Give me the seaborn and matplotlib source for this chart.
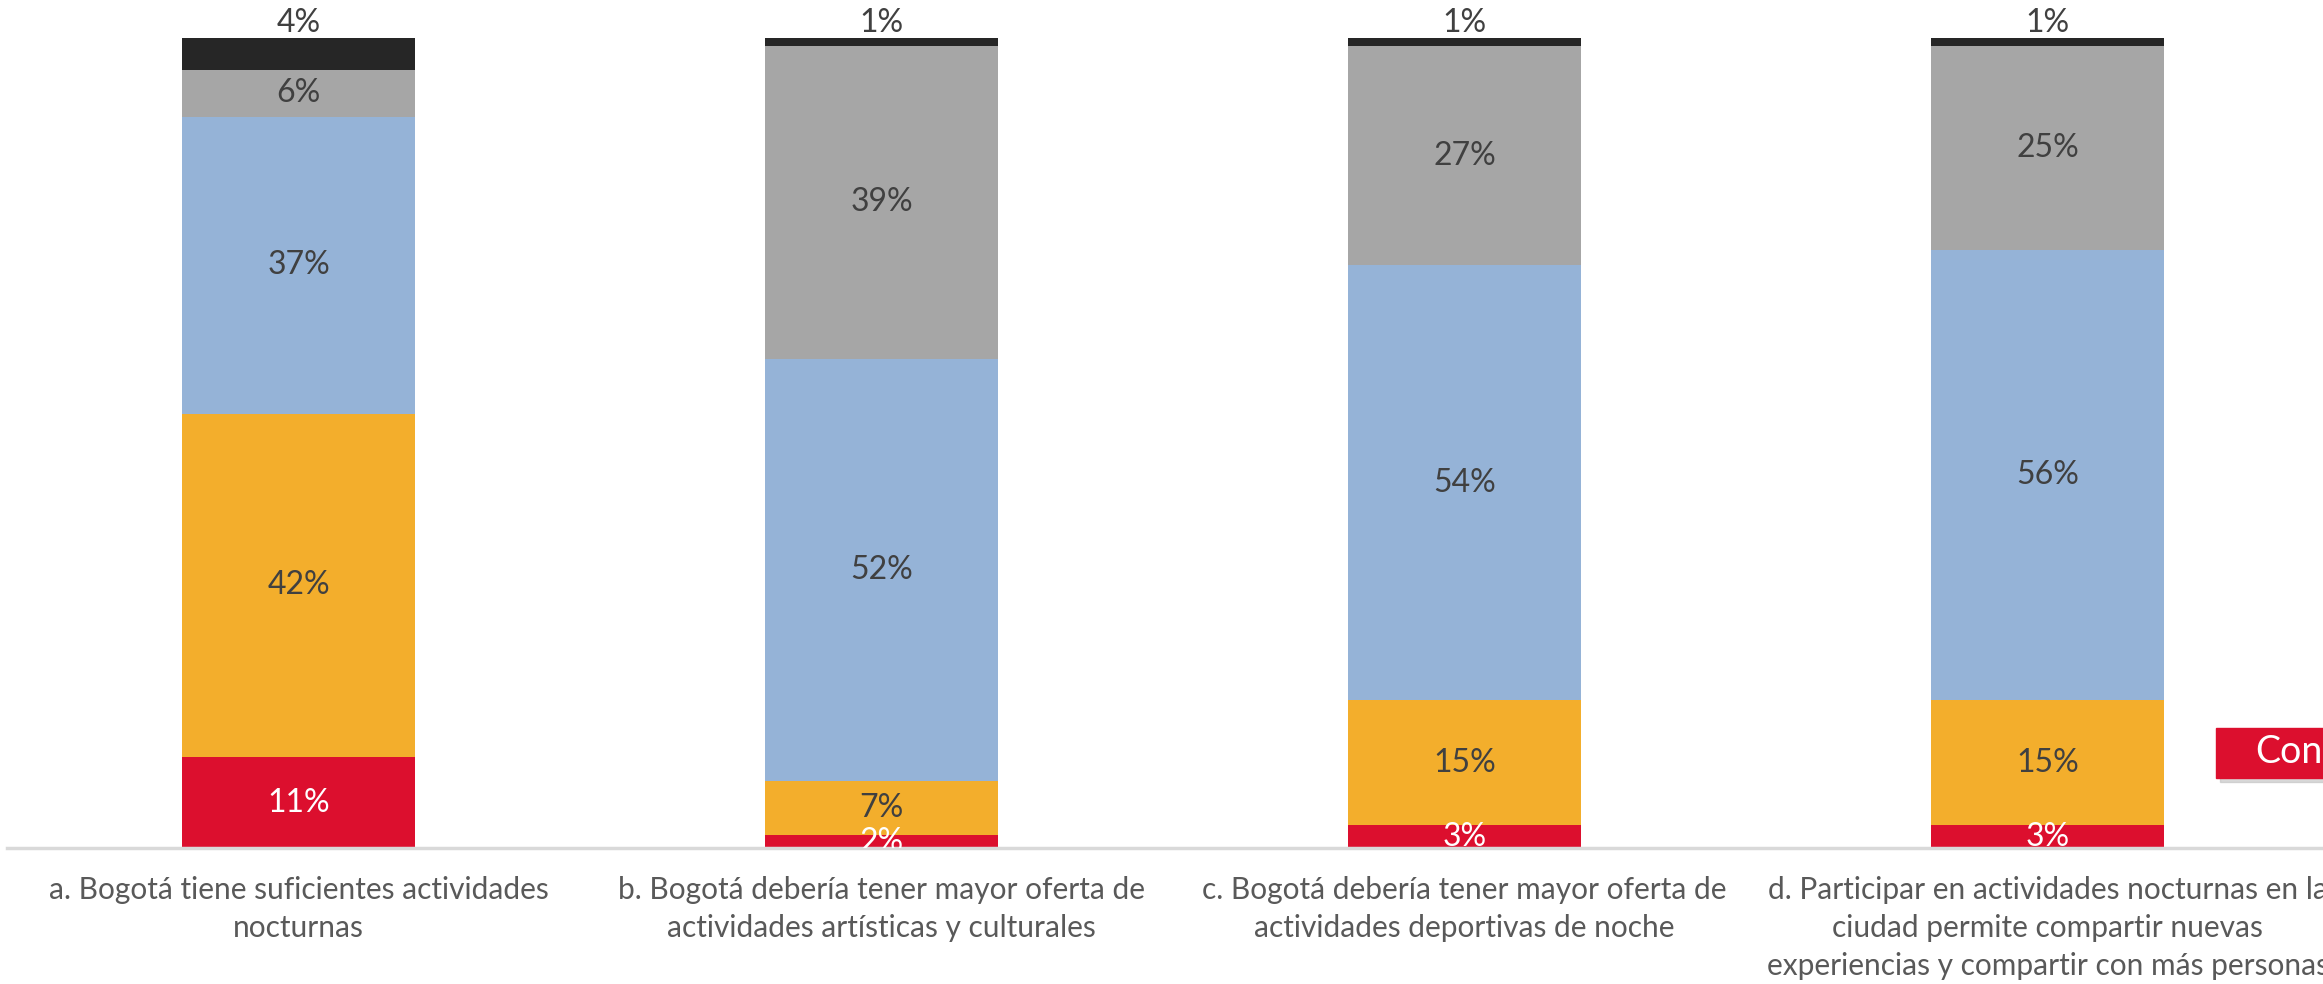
import numpy as np
import pandas as pd
import seaborn as sns
import matplotlib.pyplot as plt
from matplotlib.patches import Rectangle

# --- datos ---
categorias = [
    "a. Bogotá tiene suficientes actividades\nnocturnas",
    "b. Bogotá debería tener mayor oferta de\nactividades artísticas y culturales",
    "c. Bogotá debería tener mayor oferta de\nactividades deportivas de noche",
    "d. Participar en actividades nocturnas en la\nciudad permite compartir nuevas\nexperiencias y compartir con más personas",
]
serie_rojo = [11.2, 1.6, 2.8, 2.8]
serie_amarillo = [42.4, 6.7, 15.4, 15.4]
serie_azul = [36.6, 52.0, 53.7, 55.6]
serie_gris = [5.8, 38.7, 27.0, 25.2]
serie_negro = [4.0, 1.0, 1.1, 1.0]

series = [serie_rojo, serie_amarillo, serie_azul, serie_gris, serie_negro]
colores = ["#DC0F2E", "#F3AE2C", "#95B3D7", "#A6A6A6", "#262626"]
color_texto = ["white", "#404040", "#404040", "#404040", "#404040"]

sns.set_style("white")
plt.rcParams["font.family"] = ["Lato", "DejaVu Sans"]

W, H = 2323, 984
fig = plt.figure(figsize=(W / 100, H / 100), dpi=100)
# ejes: eje x en y=848 px, 100% en y=37.5 px, primera barra centrada en x=298.5
ax = fig.add_axes([7 / W, (H - 848) / H, (W - 7) / W, 810.5 / H])

df = pd.DataFrame({"cat": categorias})
acumulado = np.cumsum(np.array(series), axis=0)

# barras apiladas: se dibuja de arriba hacia abajo (acumulados)
for i in range(len(series) - 1, -1, -1):
    df["valor"] = acumulado[i]
    sns.barplot(data=df, x="cat", y="valor", order=categorias, color=colores[i],
                width=0.4, saturation=1, linewidth=0, ax=ax)

# etiquetas de porcentaje
for j in range(len(categorias)):
    for i in range(len(series)):
        v = series[i][j]
        arriba = acumulado[i][j]
        if i == len(series) - 1:
            ax.text(j, arriba, f"{v:.0f}%", ha="center", va="bottom", fontsize=23,
                    color=color_texto[i], clip_on=False)
        else:
            ax.text(j, arriba - v / 2, f"{v:.0f}%", ha="center", va="center",
                    fontsize=23, color=color_texto[i], clip_on=True)

ax.set_xlim(-0.5, (W - 298.5) / 583)
ax.set_ylim(0, 100)
ax.set_xlabel("")
ax.set_ylabel("")
ax.set_yticks([])
ax.tick_params(axis="x", length=0, pad=20, labelsize=21.5, labelcolor="#595959")
for lab in ax.get_xticklabels():
    lab.set_linespacing(1.43)
for s in ["top", "right", "left"]:
    ax.spines[s].set_visible(False)
ax.spines["bottom"].set_color("#D9D9D9")
ax.spines["bottom"].set_linewidth(2.5)

# recuadro rojo "Cont" (cortado en el borde derecho)
x0, y0, x1, y1 = 2216, 728, 2330, 778
fig.patches.append(Rectangle(((x0 + 4) / W, (H - y1 - 4) / H), (x1 - x0) / W, (y1 - y0) / H,
                             transform=fig.transFigure, color="#BFBFBF", alpha=0.6, zorder=2))
fig.patches.append(Rectangle((x0 / W, (H - y1) / H), (x1 - x0) / W, (y1 - y0) / H,
                             transform=fig.transFigure, color="#DC0F2E", zorder=3))
fig.text(2255 / W, (H - 752) / H, "Cont", color="white", fontsize=27,
         va="center", ha="left", zorder=4)

fig.savefig("out.png", dpi=100)
